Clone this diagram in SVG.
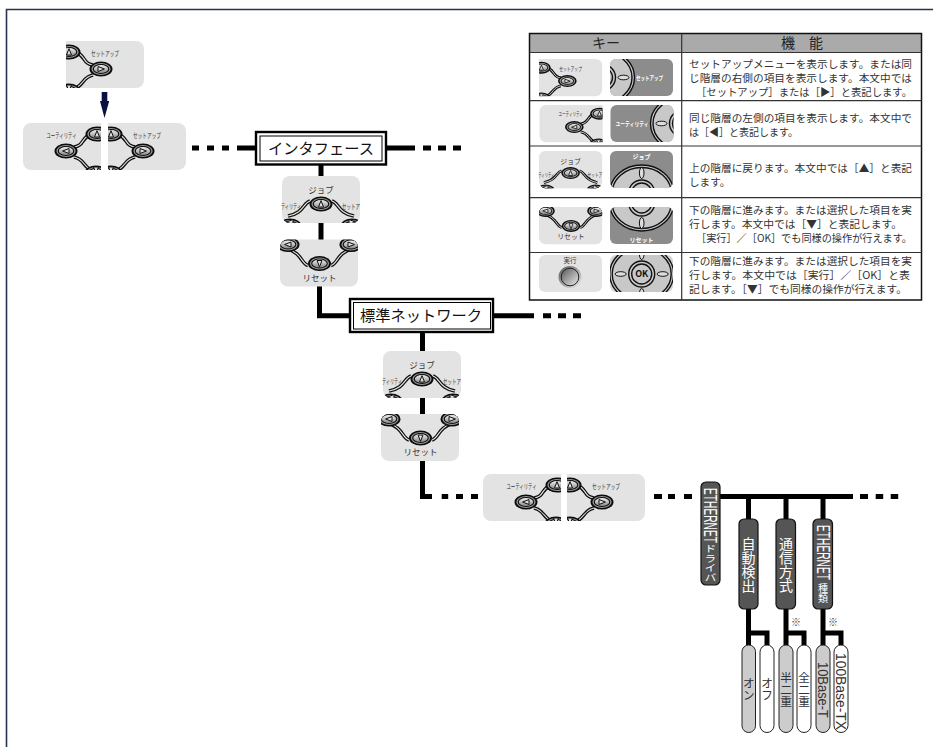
<svg xmlns="http://www.w3.org/2000/svg" width="933" height="747" viewBox="0 0 933 747">
<style>
text{font-family:"Noto Sans CJK JP","Liberation Sans",sans-serif}
.ln{stroke:#000;stroke-width:5;fill:none}
.panel{fill:#e3e3e3}
.c1{stroke:#111;stroke-width:3.6;fill:none}
.c2{stroke:#e8e8e8;stroke-width:1.1;fill:none}
.kl{font-size:7px;fill:#333}
.kb{font-size:8.5px;fill:#333;text-anchor:middle}
.tri{fill:#ddd;stroke:#111;stroke-width:1}
.td{font-size:10.6px;fill:#333}
.th{font-size:14px;fill:#222;text-anchor:middle}
.lb{font-size:15.3px;fill:#111}
.v{writing-mode:vertical-rl}
.la{font-family:"Liberation Sans",sans-serif}
.vw{fill:#fff}
.vk{fill:#333}
.dp{fill:#555;stroke:#111;stroke-width:1.2}
.pl{stroke:#222;stroke-width:1}
.wl{fill:#fff;font-weight:700;font-size:6px}
.ring{fill:none;stroke:#111;stroke-width:1.4}
.ov{fill:#ddd;stroke:#111;stroke-width:1}
.ast{font-size:10px;fill:#444;text-anchor:middle}
</style>
<defs>
<linearGradient id="bg" x1="0" y1="0" x2="1" y2="1"><stop offset="0" stop-color="#555"/><stop offset="1" stop-color="#eee"/></linearGradient>
<linearGradient id="bg2" x1="0" y1="0" x2="0" y2="1"><stop offset="0" stop-color="#f2f2f2"/><stop offset="1" stop-color="#888"/></linearGradient>
<clipPath id="cs"><path d="M0 0H70a8 8 0 0 1 8 8V39a8 8 0 0 1-8 8H0Z"/></clipPath>
<clipPath id="cu"><path d="M78 0H8a8 8 0 0 0-8 8V39a8 8 0 0 0 8 8H78Z"/></clipPath>
<clipPath id="ca"><rect width="78" height="47" rx="8"/></clipPath>
<clipPath id="cd"><rect width="63" height="37" rx="6"/></clipPath>
<g id="b"><ellipse rx="11.500" ry="7.600" fill="#0c0c0c"/><ellipse rx="9.600" ry="5.900" fill="#999"/><ellipse rx="8.300" ry="4.900" fill="#0c0c0c"/><ellipse rx="7.200" ry="4" fill="url(#bg2)"/></g>
<path id="tr" class="tri" d="M-3-2.500L3.400 0L-3 2.500Z"/>
<path id="p1" d="M10 11C20 15 17 23 27 24M10 47C18 43 17 36 27 34"/>
<path id="p2" d="M68 11C58 15 61 23 51 24M68 47C60 43 61 36 51 34"/>
<path id="p3" d="M28 25C21 27 22 37 6 40M50 25C57 27 56 37 72 40"/>
<path id="p4" d="M28 26C21 24 22 13 6 9M51 26C58 24 57 13 73 9"/>
<g id="k-setup"><path class="panel" d="M0 0H70a8 8 0 0 1 8 8V39a8 8 0 0 1-8 8H0Z"/><g clip-path="url(#cs)"><use href="#p1" class="c1"/><use href="#p1" class="c2"/><use href="#b" x="3" y="11"/><use href="#b" x="3" y="50"/><use href="#b" x="35" y="28"/><use href="#tr" x="35" y="28"/><use href="#tr" transform="translate(3 11) rotate(-90)"/><use href="#tr" transform="translate(3 47) rotate(90)"/></g><text class="kl" x="25" y="15" textLength="28" lengthAdjust="spacingAndGlyphs">セットアップ</text></g>
<g id="k-util"><path class="panel" d="M78 0H8a8 8 0 0 0-8 8V39a8 8 0 0 0 8 8H78Z"/><g clip-path="url(#cu)"><use href="#p2" class="c1"/><use href="#p2" class="c2"/><use href="#b" x="74" y="11"/><use href="#b" x="73" y="50"/><use href="#b" x="43" y="28"/><use href="#tr" transform="translate(43 28) rotate(180)"/><use href="#tr" transform="translate(74 11) rotate(-90)"/><use href="#tr" transform="translate(73 47) rotate(90)"/></g><text class="kl" x="23.500" y="14.500" textLength="30" lengthAdjust="spacingAndGlyphs">ユーティリティ</text></g>
<g id="k-job"><rect class="panel" width="78" height="47" rx="8"/><g clip-path="url(#ca)"><use href="#p3" class="c1"/><use href="#p3" class="c2"/><use href="#b" x="39" y="28"/><use href="#b" x="8" y="50"/><use href="#b" x="70" y="50"/><use href="#tr" transform="translate(39 28) rotate(-90)"/><use href="#tr" transform="translate(8 46) rotate(180)"/><use href="#tr" x="70" y="46"/></g><text class="kb" x="39" y="17">ジョブ</text><text class="kl" x="-1" y="33" textLength="20" lengthAdjust="spacingAndGlyphs">ティリティ</text><text class="kl" x="60" y="33" textLength="18" lengthAdjust="spacingAndGlyphs">セットア</text></g>
<g id="k-reset"><rect class="panel" width="78" height="47" rx="8"/><g clip-path="url(#ca)"><use href="#p4" class="c1"/><use href="#p4" class="c2"/><use href="#b" x="8" y="5"/><use href="#b" x="71" y="5"/><use href="#b" x="39.500" y="24"/><use href="#tr" transform="translate(39.500 24) rotate(90)"/><use href="#tr" transform="translate(8 5) rotate(180)"/><use href="#tr" x="71" y="5"/></g><text class="kb" x="39.500" y="41">リセット</text></g>
<g id="pad"><ellipse rx="32" ry="28" fill="#c8c8c8" stroke="#111" stroke-width="1.400"/><ellipse rx="29.500" ry="25.500" class="ring"/><circle r="13" fill="#ddd" class="ring"/><circle r="10" fill="#eee" class="ring"/><ellipse cy="-20" rx="2.300" ry="5.500" class="ov"/><ellipse cy="20" rx="2.300" ry="5.500" class="ov"/><ellipse cx="-21" rx="5.500" ry="2.300" class="ov"/><ellipse cx="21" rx="5.500" ry="2.300" class="ov"/></g>
</defs>
<rect width="933" height="747" fill="#fff"/>
<path d="M933 9.500H6.500V747" fill="none" stroke="#2a3050" stroke-width="1.600"/>
<g id="connectors">
<path class="ln" d="M192 148h7M207 148h7M222 148h7M237 148h18M387 148h28M423 148h8M438 148h8M453 148h8"/>
<path class="ln" d="M321 165V240M319.500 286V315.700H349M494 315.700h40M543 315.700h8M558 315.700h8M573 315.700h8"/>
<path class="ln" d="M422.500 333V496.500H432M441.700 496.500h6.500M456 496.500h7M471 496.500h7M654 496.500h8M668 496.500h7M684 496.500h8M715 496.500H853M860 496.500h8M875.700 496.500h7.500M890.700 496.500h7.500"/>
<path class="ln" d="M748.500 496V519M786 496V519M823 496V519M748.500 609V645M748.500 633H767V645M786 609V645M786 633H804V645M823 609V645M823 633H841V645"/>
<path d="M101.700 92h5.600v9h1.900L104.500 118L100 101h1.700Z" fill="#0a1040"/>
</g>
<g id="key-setup-top"><use href="#k-setup" x="66" y="41"/></g>
<g id="key-util-1"><use href="#k-util" x="23" y="123"/></g>
<g id="key-setup-1"><use href="#k-setup" x="108" y="123"/></g>
<g id="node-interface"><rect x="256" y="132" width="130" height="32.500" fill="#fff" stroke="#000" stroke-width="2.400"/><rect x="260" y="136" width="122" height="25" fill="#fff" stroke="#000"/><text class="lb" x="268" y="154" textLength="106" lengthAdjust="spacingAndGlyphs">インタフェース</text></g>
<g id="key-job-1"><use href="#k-job" x="282" y="176"/></g>
<g id="key-reset-1"><use href="#k-reset" x="280" y="239.500"/></g>
<g id="node-network"><rect x="350" y="299" width="143" height="33" fill="#fff" stroke="#000" stroke-width="2.400"/><rect x="353.500" y="302.500" width="137" height="26.500" fill="#fff" stroke="#000"/><text class="lb" x="360" y="321" textLength="122" lengthAdjust="spacingAndGlyphs">標準ネットワーク</text></g>
<g id="key-job-2"><use href="#k-job" x="383" y="351"/></g>
<g id="key-reset-2"><use href="#k-reset" x="381" y="414"/></g>
<g id="key-util-2"><use href="#k-util" x="483" y="474"/></g>
<g id="key-setup-2"><use href="#k-setup" x="567" y="474"/></g>
<g id="node-driver"><rect class="dp" x="701" y="482" width="19" height="103" rx="5"/><text class="vw la" transform="translate(704 488) rotate(90)" font-size="18" textLength="55" lengthAdjust="spacingAndGlyphs">ETHERNET</text><text class="v vw" transform="translate(710.500 544) scale(1.250 1)" x="0" y="0" font-size="9.500">ドライバ</text></g>
<g id="node-auto"><rect class="dp" x="739" y="519" width="19" height="90" rx="5"/><text class="v vw" x="748.500" y="537" font-size="14">自動検出</text></g>
<g id="node-comm"><rect class="dp" x="776" y="519" width="19.500" height="90" rx="5"/><text class="v vw" x="786" y="537" font-size="14">通信方式</text></g>
<g id="node-type"><rect class="dp" x="813" y="519" width="19.500" height="90" rx="5"/><text class="vw la" transform="translate(816.500 525) rotate(90)" font-size="18" textLength="55" lengthAdjust="spacingAndGlyphs">ETHERNET</text><text class="v vw" x="823" y="583" font-size="10">種類</text></g>
<g id="node-on"><rect class="pl" x="742" y="645" width="13.500" height="87.500" rx="6.700" fill="#ccc"/><text class="v vk" x="748.800" y="677" font-size="12">オン</text></g>
<g id="node-off"><rect class="pl" x="760" y="645" width="14" height="87.500" rx="7" fill="#fff"/><text class="v vk" x="767" y="677" font-size="12">オフ</text></g>
<g id="node-half"><rect class="pl" x="779" y="645" width="14" height="87.500" rx="7" fill="#ccc"/><text class="v vk" x="786" y="672" font-size="11.700">半二重</text></g>
<g id="node-full"><rect class="pl" x="797" y="645" width="14" height="87.500" rx="7" fill="#fff"/><text class="v vk" x="804" y="672" font-size="11.700">全二重</text></g>
<g id="node-10"><rect class="pl" x="816" y="645" width="14" height="87.500" rx="7" fill="#ccc"/><text class="vk la" transform="translate(818 662) rotate(90)" font-size="15" textLength="56" lengthAdjust="spacingAndGlyphs">10Base-T</text></g>
<g id="node-100"><rect class="pl" x="834" y="645" width="14" height="87.500" rx="7" fill="#fff"/><text class="vk la" transform="translate(836 653) rotate(90)" font-size="15" textLength="77" lengthAdjust="spacingAndGlyphs">100Base-TX</text></g>
<text class="ast" x="796" y="626">※</text>
<text class="ast" x="833" y="626">※</text>
<g id="table">
<rect x="529.500" y="33.500" width="392" height="19" fill="#aaa"/>
<rect x="529.500" y="33.500" width="392" height="266.500" fill="none" stroke="#111" stroke-width="1.500"/>
<path d="M681.700 33.500V300M529.500 52.500H921.500M529.500 100.700H921.500M529.500 146H921.500M529.500 197.700H921.500M529.500 252.500H921.500" fill="none" stroke="#333" stroke-width="1.200"/>
<text class="th" x="606" y="48">キー</text>
<text class="th" x="802" y="48">機　能</text>
<text class="td" x="689" y="67.500" textLength="223" lengthAdjust="spacingAndGlyphs">セットアップメニューを表示します。または同</text>
<text class="td" x="689" y="81.500" textLength="223" lengthAdjust="spacingAndGlyphs">じ階層の右側の項目を表示します。本文中では</text>
<text class="td" x="696" y="95.500" textLength="216" lengthAdjust="spacingAndGlyphs">［セットアップ］または［▶］と表記します。</text>
<text class="td" x="689" y="121.500" textLength="223" lengthAdjust="spacingAndGlyphs">同じ階層の左側の項目を表示します。本文中で</text>
<text class="td" x="689" y="135.500" textLength="109" lengthAdjust="spacingAndGlyphs">は［◀］と表記します。</text>
<text class="td" x="689" y="171.500" textLength="223" lengthAdjust="spacingAndGlyphs">上の階層に戻ります。本文中では［▲］と表記</text>
<text class="td" x="689" y="185.500">します。</text>
<text class="td" x="689" y="214" textLength="223" lengthAdjust="spacingAndGlyphs">下の階層に進みます。または選択した項目を実</text>
<text class="td" x="689" y="228" textLength="213" lengthAdjust="spacingAndGlyphs">行します。本文中では［▼］と表記します。</text>
<text class="td" x="696" y="242" textLength="216" lengthAdjust="spacingAndGlyphs">［実行］／［OK］でも同様の操作が行えます。</text>
<text class="td" x="689" y="265" textLength="223" lengthAdjust="spacingAndGlyphs">下の階層に進みます。または選択した項目を実</text>
<text class="td" x="689" y="279" textLength="221" lengthAdjust="spacingAndGlyphs">行します。本文中では［実行］／［OK］と表</text>
<text class="td" x="689" y="293" textLength="218" lengthAdjust="spacingAndGlyphs">記します。［▼］でも同様の操作が行えます。</text>
</g>
<g id="table-key-setup"><use href="#k-setup" transform="translate(539 59) scale(.81 .79)"/></g>
<g id="table-key-util"><use href="#k-util" transform="translate(539.500 105) scale(.81 .79)"/></g>
<g id="table-key-job"><use href="#k-job" transform="translate(539 151) scale(.81 .79)"/></g>
<g id="table-key-reset"><use href="#k-reset" transform="translate(539 207) scale(.81 .79)"/></g>
<g id="table-key-exec"><rect x="539" y="255" width="63" height="37" rx="6" class="panel"/><text x="570" y="263" font-size="6.500" fill="#333" text-anchor="middle">実行</text><ellipse cx="570" cy="277" rx="11.500" ry="11" fill="url(#bg)"/><circle cx="570" cy="277" r="8.800" fill="url(#bg)" stroke="#222" stroke-width="1"/></g>
<g id="table-pad-setup" transform="translate(610 59)"><rect width="63" height="37" rx="6" fill="#8c8c8c"/><g clip-path="url(#cd)"><use href="#pad" x="-7.500" y="18.500"/></g><text class="wl" x="26" y="20.500" textLength="27" lengthAdjust="spacingAndGlyphs">セットアップ</text></g>
<g id="table-pad-util" transform="translate(610.500 105)"><rect width="63" height="37" rx="6" fill="#8c8c8c"/><g clip-path="url(#cd)"><use href="#pad" x="72" y="18.500"/></g><text class="wl" x="5" y="20.500" textLength="33" lengthAdjust="spacingAndGlyphs">ユーティリティ</text></g>
<g id="table-pad-job" transform="translate(610 151)"><rect width="63" height="37" rx="6" fill="#8c8c8c"/><g clip-path="url(#cd)"><use href="#pad" x="31.700" y="42"/></g><text class="wl" x="31.500" y="7.500" text-anchor="middle">ジョブ</text></g>
<g id="table-pad-reset" transform="translate(610 207)"><rect width="63" height="37" rx="6" fill="#8c8c8c"/><g clip-path="url(#cd)"><use href="#pad" x="31.700" y="-4"/></g><text class="wl" x="31.500" y="34.500" text-anchor="middle">リセット</text></g>
<g id="table-pad-ok" transform="translate(610 255)"><rect width="63" height="37" rx="6" fill="#d5d5d5"/><g clip-path="url(#cd)"><use href="#pad" x="31.700" y="19"/></g><text x="31.700" y="22.200" font-size="9" font-weight="700" fill="#111" text-anchor="middle" font-family="Liberation Sans">OK</text></g>
</svg>
